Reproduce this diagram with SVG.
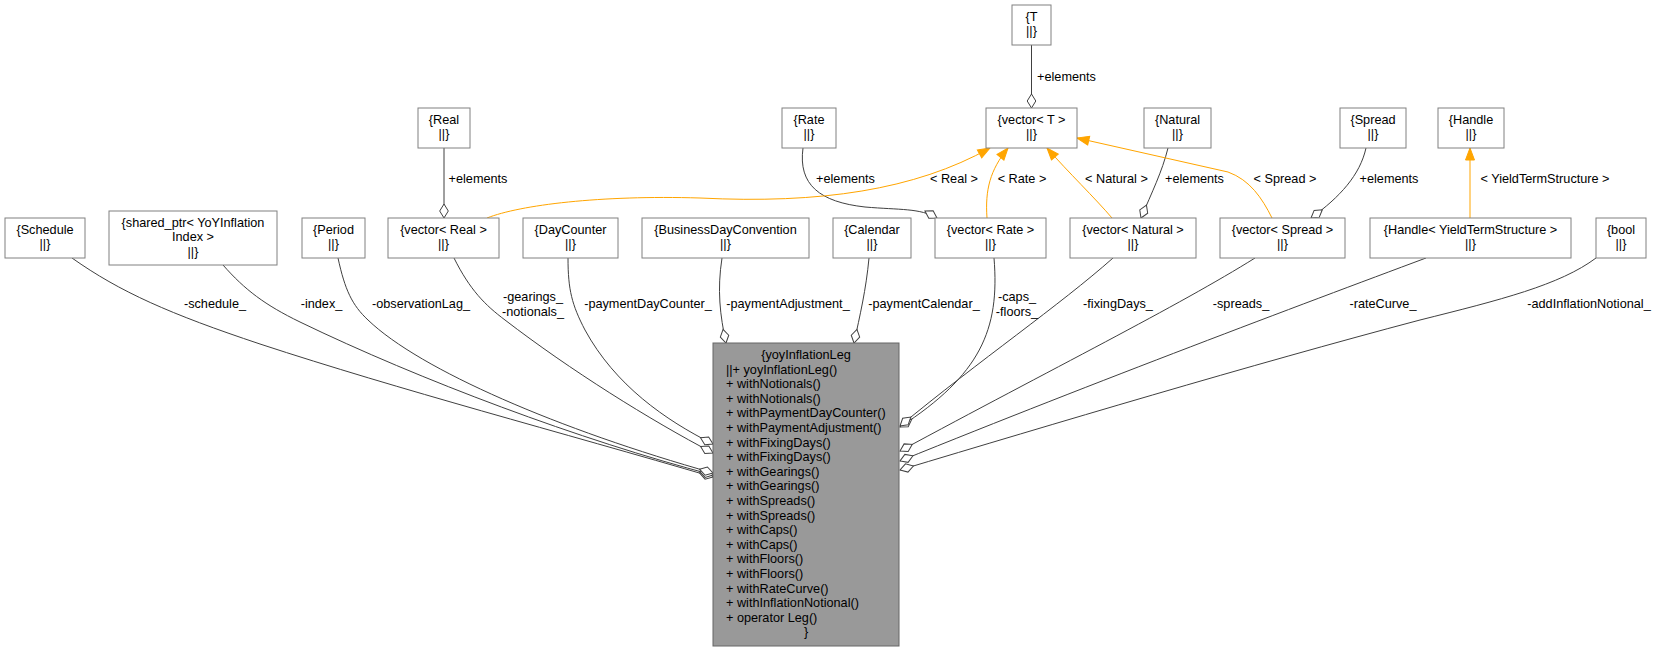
<svg xmlns="http://www.w3.org/2000/svg" width="1657" height="652" viewBox="0 0 1657 652">
<style>
text{font-family:"Liberation Sans",Arial,sans-serif;font-size:12.7px;fill:#000}
.c{text-anchor:middle}
.box{fill:#fff;stroke:#808080;stroke-width:1}
.main{fill:#999999;stroke:#666666;stroke-width:1}
.e{fill:none;stroke:#404040;stroke-width:1}
.t{fill:none;stroke:#FFA500;stroke-width:1}
</style>
<defs>
<marker id="dia" markerUnits="userSpaceOnUse" markerWidth="16" markerHeight="12" refX="14.5" refY="6" orient="auto" viewBox="0 0 16 12" overflow="visible">
<path d="M0.5,6 L7.5,1.7 L14.5,6 L7.5,10.3 Z" fill="#fff" stroke="#404040" stroke-width="1"/>
</marker>
<marker id="arr" markerUnits="userSpaceOnUse" markerWidth="14" markerHeight="11" refX="13" refY="5.5" orient="auto" viewBox="0 0 14 11" overflow="visible">
<path d="M1,1 L13,5.5 L1,10 Z" fill="#FFA500" stroke="#FFA500" stroke-width="1"/>
</marker>
</defs>
<rect width="1657" height="652" fill="#fff"/>

<g id="connectors">
<!-- aggregation edges to main -->
<path class="e" marker-end="url(#dia)" d="M72,258 C120,292 170,314 260,344 C400,390 560,432 713,477"/>
<path class="e" marker-end="url(#dia)" d="M223,265 C245,290 265,305 300,322 C420,380 580,440 713,475"/>
<path class="e" marker-end="url(#dia)" d="M338,258 C345,290 352,305 368,320 C420,370 560,430 713,473"/>
<path class="e" marker-end="url(#dia)" d="M454,258 C470,290 485,305 505,320 C570,370 650,420 713,453"/>
<path class="e" marker-end="url(#dia)" d="M568,258 C568,290 572,305 585,330 C615,385 665,420 713,444"/>
<path class="e" marker-end="url(#dia)" d="M722,258 C717,290 720,315 726,343"/>
<path class="e" marker-end="url(#dia)" d="M869,258 C866,290 860,315 854,343"/>
<path class="e" marker-end="url(#dia)" d="M994,258 C1000,330 980,375 900,427"/>
<path class="e" marker-end="url(#dia)" d="M1113,258 C1060,305 980,360 900,426"/>
<path class="e" marker-end="url(#dia)" d="M1255,258 C1180,305 1050,370 900,451"/>
<path class="e" marker-end="url(#dia)" d="M1426,258 C1300,305 1100,380 900,461"/>
<path class="e" marker-end="url(#dia)" d="M1596,258 C1560,285 1500,300 1420,320 C1250,365 1050,425 900,470"/>
<!-- element edges -->
<path class="e" marker-end="url(#dia)" d="M1031.5,45 L1031.5,108"/>
<path class="e" marker-end="url(#dia)" d="M444,148 L444,218"/>
<path class="e" marker-end="url(#dia)" d="M803,148 C798,185 820,202 865,207 C900,210 920,208 937,218"/>
<path class="e" marker-end="url(#dia)" d="M1168,148 C1162,172 1152,192 1141,218"/>
<path class="e" marker-end="url(#dia)" d="M1366,148 C1360,175 1340,197 1311,218"/>
<!-- template instance edges -->
<path class="t" marker-end="url(#arr)" d="M487,218 C520,205 600,195 700,198 C820,204 915,190 990,148"/>
<path class="t" marker-end="url(#arr)" d="M987,218 C985,190 990,170 1008,148"/>
<path class="t" marker-end="url(#arr)" d="M1112,218 C1095,198 1068,172 1047,148"/>
<path class="t" marker-end="url(#arr)" d="M1272,218 C1262,198 1250,180 1228,172 L1077,138"/>
<path class="t" marker-end="url(#arr)" d="M1470,218 L1470,148"/>
<!-- labels -->
<text class="c" x="215" y="307.5">-schedule_</text>
<text class="c" x="321.5" y="307.5">-index_</text>
<text class="c" x="421" y="307.5">-observationLag_</text>
<text class="c" x="533" y="301">-gearings_</text>
<text class="c" x="533" y="315.5">-notionals_</text>
<text class="c" x="648" y="307.5">-paymentDayCounter_</text>
<text class="c" x="788" y="307.5">-paymentAdjustment_</text>
<text class="c" x="924" y="307.5">-paymentCalendar_</text>
<text class="c" x="1017" y="301">-caps_</text>
<text class="c" x="1017" y="315.5">-floors_</text>
<text class="c" x="1118" y="307.5">-fixingDays_</text>
<text class="c" x="1241" y="307.5">-spreads_</text>
<text class="c" x="1383" y="307.5">-rateCurve_</text>
<text class="c" x="1589" y="307.5">-addInflationNotional_</text>
<text class="c" x="1066.5" y="80.5">+elements</text>
<text class="c" x="478" y="182.5">+elements</text>
<text class="c" x="845.5" y="182.5">+elements</text>
<text class="c" x="954" y="182.5">&lt; Real &gt;</text>
<text class="c" x="1022" y="182.5">&lt; Rate &gt;</text>
<text class="c" x="1116.5" y="182.5">&lt; Natural &gt;</text>
<text class="c" x="1194.5" y="182.5">+elements</text>
<text class="c" x="1285" y="182.5">&lt; Spread &gt;</text>
<text class="c" x="1389" y="182.5">+elements</text>
<text class="c" x="1545" y="182.5">&lt; YieldTermStructure &gt;</text>
</g>

<g id="n_T"><rect class="box" x="1012" y="5" width="39" height="40"/><text class="c" x="1031.5" y="20.5">{T</text><text class="c" x="1031.5" y="35">||}</text></g>
<g id="n_vectorT"><rect class="box" x="986" y="108" width="91" height="40"/><text class="c" x="1031.5" y="123.5">{vector&lt; T &gt;</text><text class="c" x="1031.5" y="138">||}</text></g>
<g id="n_Real"><rect class="box" x="418" y="108" width="52" height="40"/><text class="c" x="444" y="123.5">{Real</text><text class="c" x="444" y="138">||}</text></g>
<g id="n_Rate"><rect class="box" x="782" y="108" width="54" height="40"/><text class="c" x="809" y="123.5">{Rate</text><text class="c" x="809" y="138">||}</text></g>
<g id="n_Natural"><rect class="box" x="1144" y="108" width="67" height="40"/><text class="c" x="1177.5" y="123.5">{Natural</text><text class="c" x="1177.5" y="138">||}</text></g>
<g id="n_Spread"><rect class="box" x="1340" y="108" width="66" height="40"/><text class="c" x="1373" y="123.5">{Spread</text><text class="c" x="1373" y="138">||}</text></g>
<g id="n_Handle"><rect class="box" x="1438" y="108" width="66" height="40"/><text class="c" x="1471" y="123.5">{Handle</text><text class="c" x="1471" y="138">||}</text></g>

<g id="n_Schedule"><rect class="box" x="5" y="218" width="80" height="40"/><text class="c" x="45" y="233.5">{Schedule</text><text class="c" x="45" y="248">||}</text></g>
<g id="n_sharedptr"><rect class="box" x="109" y="211" width="168" height="54"/><text class="c" x="193" y="226.5">{shared_ptr&lt; YoYInflation</text><text class="c" x="193" y="241">Index &gt;</text><text class="c" x="193" y="255.5">||}</text></g>
<g id="n_Period"><rect class="box" x="302" y="218" width="63" height="40"/><text class="c" x="333.5" y="233.5">{Period</text><text class="c" x="333.5" y="248">||}</text></g>
<g id="n_vectorReal"><rect class="box" x="388" y="218" width="111" height="40"/><text class="c" x="443.5" y="233.5">{vector&lt; Real &gt;</text><text class="c" x="443.5" y="248">||}</text></g>
<g id="n_DayCounter"><rect class="box" x="523" y="218" width="95" height="40"/><text class="c" x="570.5" y="233.5">{DayCounter</text><text class="c" x="570.5" y="248">||}</text></g>
<g id="n_BDC"><rect class="box" x="642" y="218" width="167" height="40"/><text class="c" x="725.5" y="233.5">{BusinessDayConvention</text><text class="c" x="725.5" y="248">||}</text></g>
<g id="n_Calendar"><rect class="box" x="833" y="218" width="78" height="40"/><text class="c" x="872" y="233.5">{Calendar</text><text class="c" x="872" y="248">||}</text></g>
<g id="n_vectorRate"><rect class="box" x="935" y="218" width="111" height="40"/><text class="c" x="990.5" y="233.5">{vector&lt; Rate &gt;</text><text class="c" x="990.5" y="248">||}</text></g>
<g id="n_vectorNatural"><rect class="box" x="1070" y="218" width="126" height="40"/><text class="c" x="1133" y="233.5">{vector&lt; Natural &gt;</text><text class="c" x="1133" y="248">||}</text></g>
<g id="n_vectorSpread"><rect class="box" x="1220" y="218" width="125" height="40"/><text class="c" x="1282.5" y="233.5">{vector&lt; Spread &gt;</text><text class="c" x="1282.5" y="248">||}</text></g>
<g id="n_HandleYTS"><rect class="box" x="1370" y="218" width="201" height="40"/><text class="c" x="1470.5" y="233.5">{Handle&lt; YieldTermStructure &gt;</text><text class="c" x="1470.5" y="248">||}</text></g>
<g id="n_bool"><rect class="box" x="1596" y="218" width="50" height="40"/><text class="c" x="1621" y="233.5">{bool</text><text class="c" x="1621" y="248">||}</text></g>

<g id="n_yoyInflationLeg">
<rect class="main" x="713" y="343" width="186" height="303"/>
<text class="c" x="806" y="359">{yoyInflationLeg</text>
<text x="726" y="373.6">||+ yoyInflationLeg()</text>
<text x="726" y="388.2">+ withNotionals()</text>
<text x="726" y="402.8">+ withNotionals()</text>
<text x="726" y="417.4">+ withPaymentDayCounter()</text>
<text x="726" y="432">+ withPaymentAdjustment()</text>
<text x="726" y="446.6">+ withFixingDays()</text>
<text x="726" y="461.2">+ withFixingDays()</text>
<text x="726" y="475.8">+ withGearings()</text>
<text x="726" y="490.4">+ withGearings()</text>
<text x="726" y="505">+ withSpreads()</text>
<text x="726" y="519.6">+ withSpreads()</text>
<text x="726" y="534.2">+ withCaps()</text>
<text x="726" y="548.8">+ withCaps()</text>
<text x="726" y="563.4">+ withFloors()</text>
<text x="726" y="578">+ withFloors()</text>
<text x="726" y="592.6">+ withRateCurve()</text>
<text x="726" y="607.2">+ withInflationNotional()</text>
<text x="726" y="621.8">+ operator Leg()</text>
<text class="c" x="806" y="636.4">}</text>
</g>
</svg>
